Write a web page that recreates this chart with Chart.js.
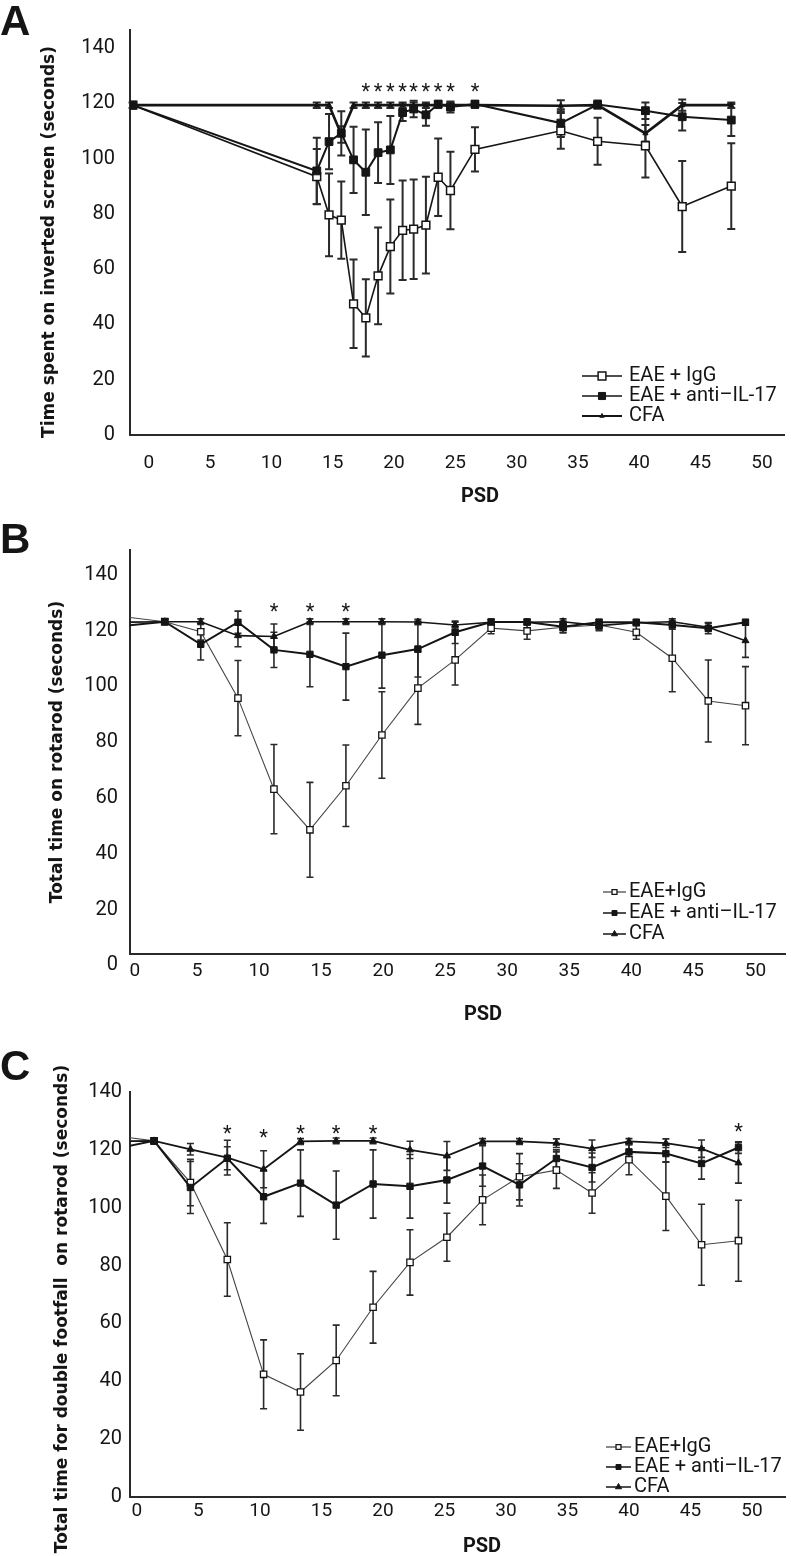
<!DOCTYPE html>
<html>
<head>
<meta charset="utf-8">
<script src="https://cdn.jsdelivr.net/npm/chart.js@4.4.1/dist/chart.umd.min.js"></script>
<style>
  body { margin: 0; background: #fff; width: 791px; height: 1556px; position: relative; overflow: hidden; }
  canvas { position: absolute; left: 0; }
</style>
</head>
<body>
<canvas id="cA" width="791" height="520" style="top:0px"></canvas>
<canvas id="cB" width="791" height="520" style="top:520px"></canvas>
<canvas id="cC" width="791" height="516" style="top:1040px"></canvas>
<script>
// shared ticks
const yTicks = [0, 20, 40, 60, 80, 100, 120, 140];
const xTicks = [0, 5, 10, 15, 20, 25, 30, 35, 40, 45, 50];
const seriesNames = ['EAE + IgG', 'EAE + anti\u2013IL-17', 'CFA'];
const seriesNamesBC = ['EAE+IgG', 'EAE + anti\u2013IL-17', 'CFA'];

// panel A: inverted screen
const psdA = [-1.3, 13.7, 14.7, 15.7, 16.7, 17.7, 18.7, 19.7, 20.7, 21.6, 22.6, 23.6, 24.6, 26.6, 33.6, 36.6, 40.5, 43.5, 47.5];
const igA = [119.4, 93.5, 79.7, 77.8, 47.5, 42.4, 57.6, 68.2, 74.1, 74.5, 76.0, 93.3, 88.5, 103.4, 110.1, 106.3, 104.7, 82.7, 90.1];
const igErrA = [1, 10, 15, 14, 16, 14, 17.5, 17, 18, 18, 17.5, 14, 14, 8, 6.5, 8.5, 11.5, 16.5, 15.5];
const antiA = [119.4, 95.6, 106.2, 109.2, 99.6, 95.1, 102.2, 103.2, 116.7, 118.0, 115.9, 119.8, 118.7, 119.8, 112.9, 119.6, 117.4, 115.2, 114.0];
const antiErrA = [1, 12, 10, 8, 12, 15.5, 11, 12.3, 3, 3, 4, 1, 2, 1, 5, 1.5, 3, 5, 5.8];
const cfaA = [119.4, 119.4, 119.4, 108.8, 119.4, 119.4, 119.4, 119.4, 119.4, 119.4, 119.4, 119.4, 119.4, 119.4, 119.2, 119.4, 109.2, 119.4, 119.4];
const cfaErrA = [1, 1, 1, 3, 1, 1, 1, 1, 1, 1, 1, 1, 1, 1, 2, 1, 3, 2, 1];
const starXA = [17.7, 18.7, 19.7, 20.7, 21.6, 22.6, 23.6, 24.6, 26.6];
const starYA = [125.6, 125.6, 125.6, 125.6, 125.6, 125.6, 125.6, 125.6, 125.6];

// panel B: rotarod
const psdB = [-1, 2.4, 5.3, 8.3, 11.2, 14.1, 17.0, 19.9, 22.8, 25.8, 28.7, 31.6, 34.5, 37.4, 40.4, 43.3, 46.2, 49.2];
const igB = [125, 123.2, 119.6, 95.8, 63.2, 48.6, 64.4, 82.6, 99.4, 109.5, 120.9, 119.9, 121.2, 122.0, 119.4, 110.1, 94.8, 93.1];
const igErrB = [0, 1, 3, 13.5, 16, 17, 14.6, 15.5, 13, 9, 2, 3, 2, 2, 2.5, 12, 14.7, 14];
const antiB = [121.7, 123.2, 115.1, 123.0, 113.1, 111.5, 107.1, 111.2, 113.4, 119.4, 123.1, 123.1, 121.4, 123.0, 123.0, 122.0, 120.9, 123.0];
const antiErrB = [0, 1, 5.6, 4, 6.3, 11.6, 12, 11.8, 10, 4, 1, 1, 2, 1, 1, 1.5, 2, 1];
const cfaB = [123, 123.2, 123.2, 118.2, 117.9, 123.2, 123.2, 123.2, 123.1, 122.0, 123.0, 123.0, 123.2, 121.8, 122.8, 123.2, 121.2, 116.4];
const cfaErrB = [0, 1, 1, 4, 4.5, 1, 1, 1, 1, 1, 1, 1, 1, 1.5, 1, 1, 1.5, 6];
const starXB = [11.2, 14.1, 17.0];
const starYB = [128, 128, 128];

// panel C: double footfall
const psdC = [-1, 1.4, 4.35, 7.35, 10.3, 13.3, 16.2, 19.2, 22.2, 25.2, 28.1, 31.1, 34.1, 37.0, 40.0, 43.0, 45.9, 48.9];
const igC = [124.4, 123.1, 108.7, 82.1, 42.4, 36.3, 47.2, 65.6, 81.1, 89.8, 102.7, 110.7, 113.0, 105.1, 116.6, 104.0, 87.2, 88.6];
const igErrC = [0, 1, 8, 12.7, 11.9, 13.2, 12.2, 12.4, 11.3, 8.3, 8.6, 8, 6.3, 7, 5.2, 11.9, 14, 14];
const antiC = [121, 123.1, 107.0, 117.1, 103.8, 108.5, 100.9, 108.2, 107.4, 109.6, 114.4, 107.9, 117.0, 113.9, 119.3, 118.7, 115.3, 120.8];
const antiErrC = [0, 1, 9, 4, 9.2, 11.5, 11.8, 11.8, 11, 8, 7, 7.3, 3, 5, 3, 3, 5.4, 2];
const cfaC = [123, 123.1, 120.2, 117.3, 113.3, 122.9, 123.1, 123.1, 120.0, 117.9, 122.9, 122.9, 122.3, 120.4, 122.9, 122.3, 120.4, 115.5];
const cfaErrC = [0, 1, 2, 6, 6.4, 1, 1, 1, 3, 5, 1, 1, 1.5, 3, 1, 1.5, 3, 7];
const starXC = [7.35, 10.3, 13.3, 16.2, 19.2, 48.9];
const starYC = [127, 125.5, 127, 127, 127, 127.5];

const INK = '#151515';
const TICK_FONT = 'Roboto, "Liberation Sans", sans-serif';

function panel(p) {
  const datasets = p.series.map((s, i) => ({
    label: s.label,
    data: p.psd.map((x, j) => ({ x: x, y: s.values[j] })),
    borderColor: s.line, borderWidth: s.lw,
    pointStyle: s.ps, pointRadius: s.r, pointBackgroundColor: s.fill,
    pointBorderColor: INK, pointBorderWidth: s.pbw,
    order: 3 - i
  }));

  const deco = {
    id: 'deco' + p.id,
    beforeDatasetsDraw(chart) {
      const xs = chart.scales.x, ys = chart.scales.y, ctx = chart.ctx;
      ctx.save();
      ctx.strokeStyle = '#2a2a2a';
      ctx.lineWidth = p.errWidth;
      p.series.forEach(s => {
        p.psd.forEach((x, j) => {
          const e = s.errors[j];
          if (!e || x < xs.min) return;
          const px = xs.getPixelForValue(x);
          const y1 = ys.getPixelForValue(s.values[j] + e);
          const y2 = ys.getPixelForValue(s.values[j] - e);
          ctx.beginPath();
          ctx.moveTo(px, y1); ctx.lineTo(px, y2);
          ctx.moveTo(px - p.cap, y1); ctx.lineTo(px + p.cap, y1);
          ctx.moveTo(px - p.cap, y2); ctx.lineTo(px + p.cap, y2);
          ctx.stroke();
        });
      });
      ctx.restore();
    },
    afterDraw(chart) {
      const xs = chart.scales.x, ys = chart.scales.y, ctx = chart.ctx;
      ctx.save();
      ctx.fillStyle = INK;
      // significance stars
      ctx.font = '20px ' + TICK_FONT;
      ctx.textAlign = 'center';
      ctx.textBaseline = 'alphabetic';
      p.starX.forEach((x, j) => {
        ctx.fillText('*', xs.getPixelForValue(x), ys.getPixelForValue(p.starY[j]) + 10);
      });
      // panel letter
      ctx.textAlign = 'left';
      ctx.font = 'bold 42px "Liberation Sans", Arial, sans-serif';
      ctx.fillText(p.letter, 0, p.letterY);
      // axis titles
      ctx.textAlign = 'center';
      ctx.textBaseline = 'middle';
      ctx.font = 'bold 20px ' + TICK_FONT;
      ctx.fillText('PSD', p.xTitle[0], p.xTitle[1]);
      ctx.save();
      ctx.translate(p.yTitle[0], p.yTitle[1]);
      ctx.rotate(-Math.PI / 2);
      ctx.font = 'bold 17px "DejaVu Sans", sans-serif';
      ctx.fillText(p.yTitleText, 0, 0);
      ctx.restore();
      // legend
      const L = p.legend;
      ctx.font = '20px ' + TICK_FONT;
      ctx.textAlign = 'left';
      p.series.forEach((s, i) => {
        const y = L.ys[i];
        ctx.strokeStyle = INK;
        ctx.lineWidth = L.lw[i];
        ctx.beginPath(); ctx.moveTo(L.x0, y); ctx.lineTo(L.x1, y); ctx.stroke();
        ctx.fillStyle = s.fill; ctx.strokeStyle = INK; ctx.lineWidth = s.pbw;
        Chart.helpers.drawPoint(ctx, { pointStyle: s.ps, radius: L.r[i], borderWidth: s.pbw, rotation: 0 }, (L.x0 + L.x1) / 2, y);
        ctx.fillStyle = INK;
        ctx.fillText(s.label, L.tx, y);
      });
      ctx.restore();
    }
  };

  new Chart(document.getElementById(p.id), {
    type: 'line',
    data: { datasets: datasets },
    options: {
      responsive: false, animation: false, devicePixelRatio: 1,
      layout: { padding: { top: p.padTop, right: 1, bottom: 0, left: 0 } },
      plugins: { legend: { display: false }, tooltip: { enabled: false } },
      scales: {
        x: {
          type: 'linear', min: p.xMin, max: p.xMax,
          afterBuildTicks: s => { s.ticks = xTicks.map(v => ({ value: v })); },
          afterFit: s => { s.height = p.xHeight; },
          grid: { color: 'rgba(0,0,0,0)', drawTicks: false },
          border: { display: true, color: '#2a2a2a', width: 2 },
          ticks: { color: INK, font: { family: TICK_FONT, size: 19 }, padding: p.xPad, maxRotation: 0 }
        },
        y: {
          min: p.yMin, max: p.yMax,
          afterBuildTicks: s => { s.ticks = yTicks.map(v => ({ value: v })); },
          afterFit: s => { s.width = 130; },
          grid: { color: 'rgba(0,0,0,0)', drawTicks: false },
          border: { display: true, color: '#2a2a2a', width: 2 },
          ticks: { color: INK, font: { family: TICK_FONT, size: 20 }, padding: p.yPad }
        }
      }
    },
    plugins: [deco]
  });
}

panel({
  id: 'cA', padTop: 30, xHeight: 85, xMin: -1.53, xMax: 51.8, yMin: 0, yMax: 146.6, xPad: 17, yPad: 15,
  psd: psdA, errWidth: 2, cap: 4,
  series: [
    { label: seriesNames[0], values: igA, errors: igErrA, line: INK, lw: 1.6, ps: 'rect', r: 5.5, fill: '#fff', pbw: 1.5 },
    { label: seriesNames[1], values: antiA, errors: antiErrA, line: INK, lw: 2, ps: 'rect', r: 5.5, fill: INK, pbw: 1 },
    { label: seriesNames[2], values: cfaA, errors: cfaErrA, line: INK, lw: 2.6, ps: 'triangle', r: 3, fill: INK, pbw: 1 }
  ],
  starX: starXA, starY: starYA,
  letter: 'A', letterY: 35,
  xTitle: [480, 497], yTitle: [50, 242], yTitleText: 'Time spent on inverted screen (seconds)',
  legend: { x0: 582, x1: 622, tx: 629, ys: [376, 396, 416], lw: [1.5, 1.5, 2], r: [5.5, 5, 2.5] }
});

panel({
  id: 'cB', padTop: 30, xHeight: 86, xMin: -0.4, xMax: 52.4, yMin: 4.1, yMax: 148.9, xPad: 6, yPad: 12,
  psd: psdB, errWidth: 1.6, cap: 3.5,
  series: [
    { label: seriesNamesBC[0], values: igB, errors: igErrB, line: '#444', lw: 1.1, ps: 'rect', r: 4.5, fill: '#fff', pbw: 1.3 },
    { label: seriesNamesBC[1], values: antiB, errors: antiErrB, line: INK, lw: 2, ps: 'rect', r: 4.5, fill: INK, pbw: 1 },
    { label: seriesNamesBC[2], values: cfaB, errors: cfaErrB, line: INK, lw: 1.6, ps: 'triangle', r: 4, fill: INK, pbw: 1 }
  ],
  starX: starXB, starY: starYB,
  letter: 'B', letterY: 33,
  xTitle: [483, 495], yTitle: [58, 232], yTitleText: 'Total time on rotarod (seconds)',
  legend: { x0: 603, x1: 626, tx: 629, ys: [372, 393, 414], lw: [1, 1.5, 1.5], r: [3.5, 3.5, 3.5] }
});

panel({
  id: 'cC', padTop: 52, xHeight: 59, xMin: -0.56, xMax: 52.7, yMin: 0, yMax: 140, xPad: 3, yPad: 8,
  psd: psdC, errWidth: 1.6, cap: 3.5,
  series: [
    { label: seriesNamesBC[0], values: igC, errors: igErrC, line: '#444', lw: 1.1, ps: 'rect', r: 4.5, fill: '#fff', pbw: 1.3 },
    { label: seriesNamesBC[1], values: antiC, errors: antiErrC, line: INK, lw: 2, ps: 'rect', r: 4.5, fill: INK, pbw: 1 },
    { label: seriesNamesBC[2], values: cfaC, errors: cfaErrC, line: INK, lw: 1.8, ps: 'triangle', r: 4, fill: INK, pbw: 1 }
  ],
  starX: starXC, starY: starYC,
  letter: 'C', letterY: 40,
  xTitle: [482, 507], yTitle: [63, 269], yTitleText: 'Total time for double footfall  on rotarod (seconds)',
  legend: { x0: 606, x1: 631, tx: 634, ys: [407, 427, 447], lw: [1, 1.5, 1.5], r: [3.5, 3.5, 3.5] }
});
</script>
</body>
</html>
